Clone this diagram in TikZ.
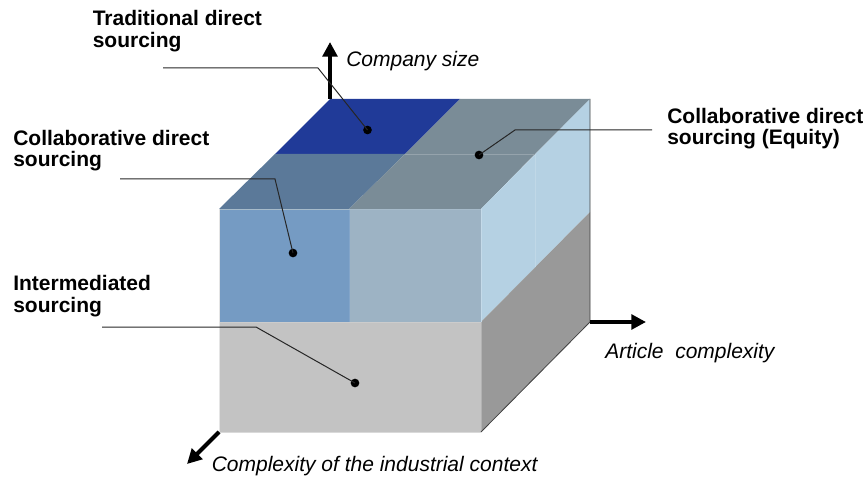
\documentclass[tikz,border=0pt]{standalone}
\usepackage{fontspec}
\setmainfont{Liberation Sans}
\usetikzlibrary{arrows.meta}
\definecolor{cDarkBlue}{RGB}{32,58,152}
\definecolor{cTopGrey}{RGB}{122,140,151}
\definecolor{cTopFront}{RGB}{91,121,153}
\definecolor{cFrontL}{RGB}{117,155,195}
\definecolor{cFrontR}{RGB}{157,179,196}
\definecolor{cSide}{RGB}{181,209,227}
\definecolor{cLowFront}{RGB}{195,195,195}
\definecolor{cLowSide}{RGB}{153,153,153}
\begin{document}
\begin{tikzpicture}[x=0.75pt,y=-0.75pt,
  lbl/.style={font=\fontsize{15.75}{16.3}\selectfont\bfseries, anchor=base west, inner sep=0pt, align=left},
  axlbl/.style={font=\fontsize{15.75}{16.3}\selectfont\itshape, anchor=base west, inner sep=0pt},
  axisarrow/.style={line width=3pt, -{Triangle[width=11pt,length=11pt]}},
  callout/.style={draw=black!85, line width=0.75pt},
  dotmark/.style={circle, fill=black, inner sep=0pt, minimum size=6.5pt},
  faint/.style={line width=0.6pt}
]
\useasboundingbox (0,0) rectangle (868,481);
% coordinates of the box
\coordinate (A) at (219,209); \coordinate (B) at (481,209);
\coordinate (C) at (481,432); \coordinate (D) at (219,432);
\coordinate (BL) at (330,99); \coordinate (BR) at (590,99);
\coordinate (BB) at (590,322);
% top faces
\fill[cDarkBlue] (330,99) -- (460,99) -- (405,154) -- (275,154) -- cycle;
\fill[cTopGrey] (460,99) -- (590,99) -- (535,154) -- (405,154) -- cycle;
\fill[cTopFront] (275,154) -- (405,154) -- (349,209) -- (219,209) -- cycle;
\fill[cTopGrey] (405,154) -- (535,154) -- (481,209) -- (349,209) -- cycle;
% right face upper
\fill[cSide] (481,209) -- (590,99) -- (590,212) -- (481,322) -- cycle;
% front upper
\fill[cFrontL] (219,209) rectangle (349,322);
\fill[cFrontR] (349,209) rectangle (481,322);
% lower block
\fill[cLowFront] (219,322) rectangle (481,432);
\fill[cLowSide] (481,322) -- (590,212) -- (590,322) -- (481,432) -- cycle;
% faint edges
\draw[faint, draw=cTopGrey!80!white] (405,154) -- (535,154);
\draw[faint, draw=cSide!85!white] (535,154) -- (535,267);
\draw[faint, draw=cFrontL!90!white] (349,209) -- (349,322);
\draw[faint, draw=cFrontR!90!white] (219,209) -- (481,209);
\draw[faint, draw=black!20] (219,322) -- (481,322);
\draw[faint, draw=black!15] (219,432) -- (481,432);
\draw[faint, draw=white!90!black] (219,209) -- (219,432);
\draw[faint, draw=cSide!80!white] (481,209) -- (481,322);
\draw[faint, draw=black!30] (481,322) -- (481,432);
\draw[line width=0.6pt, draw=black!75] (BR) -- (BB) -- (C);
% axes
\coordinate (upTip) at (330,42);
\coordinate (rightTip) at (646,322);
\coordinate (downTip) at (187,464);
\draw[axisarrow] (BL) -- (upTip);
\draw[axisarrow] (BB) -- (rightTip);
\draw[axisarrow] (D) -- (downTip);
\node[axlbl] (lblSize) at (346,66.5) {Company size};
\node[axlbl] (lblArt) at (605,358) {Article\ \ complexity};
\node[axlbl] (lblInd) at (211.5,471.5) {Complexity of the industrial context};
% labels (base anchor = baseline of the last line)
\node[lbl] (tTrad) at (92.5,47.7) {Traditional direct\\sourcing};
\node[lbl] (tColl) at (13,167) {Collaborative direct\\sourcing};
\node[lbl] (tInt) at (13,312.5) {Intermediated\\sourcing};
\node[lbl] (tEq) at (667,145) {Collaborative direct\\sourcing (Equity)};
% dots
\node[dotmark] (dTrad) at (367.5,130) {};
\node[dotmark] (dColl) at (293,253) {};
\node[dotmark] (dInt) at (355,383) {};
\node[dotmark] (dEq) at (479,155) {};
% callout lines
\coordinate (sTrad) at (163,68); \coordinate (kTrad) at (318,68);
\coordinate (sColl) at (120,179); \coordinate (kColl) at (275,179);
\coordinate (sInt) at (102,327); \coordinate (kInt) at (256,327);
\coordinate (sEq) at (652,130); \coordinate (kEq) at (515,130);
\draw[callout] (sTrad) -- (kTrad) -- (dTrad.center);
\draw[callout] (sColl) -- (kColl) -- (dColl.center);
\draw[callout] (sInt) -- (kInt) -- (dInt.center);
\draw[callout] (sEq) -- (kEq) -- (dEq.center);
\end{tikzpicture}
\end{document}
